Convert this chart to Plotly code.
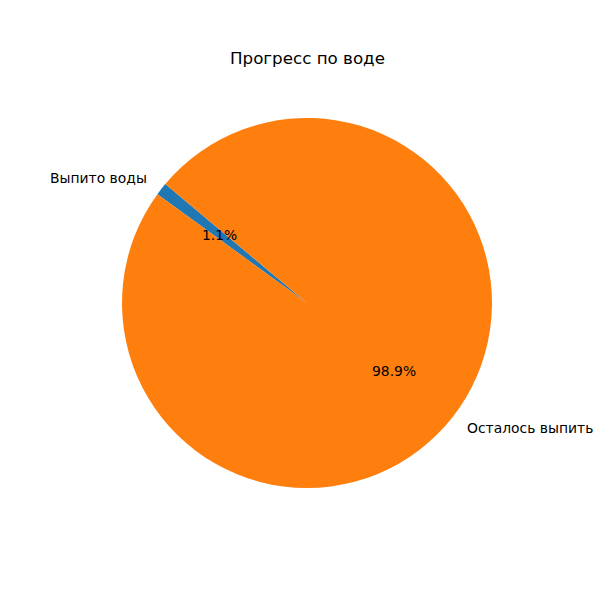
import numpy as np
import plotly.graph_objects as go

labels = ["Выпито воды", "Осталось выпить"]
values = [1.1, 98.9]
colors = ["#1f77b4", "#ff7f0e"]
title = "Прогресс по воде"
start_angle = 140  # degrees, counterclockwise from 3 o'clock

W = H = 600
cx_px, cy_px, r_px = 307, 303, 185

dom_x = [(cx_px - r_px) / W, (cx_px + r_px) / W]
dom_y = [1 - (cy_px + r_px) / H, 1 - (cy_px - r_px) / H]

vals = np.array(values, dtype=float)
fracs = vals / vals.sum()

# plotly (counterclockwise): first slice ends at `rotation` (clockwise from top)
rotation = 90 - start_angle - fracs[0] * 360

fig = go.Figure(go.Pie(
    labels=labels, values=values, sort=False,
    direction="counterclockwise", rotation=rotation,
    marker=dict(colors=colors, line=dict(width=0)),
    textinfo="none", hoverinfo="label+percent", showlegend=False,
    domain=dict(x=dom_x, y=dom_y),
))

font = "DejaVu Sans"
theta = start_angle
annotations = []
for lab, f in zip(labels, fracs):
    mid = np.deg2rad(theta + f * 360 / 2)
    theta += f * 360
    c, s = np.cos(mid), np.sin(mid)
    lx = (cx_px + 1.1 * r_px * c) / W
    ly = 1 - (cy_px - 1.1 * r_px * s) / H
    annotations.append(dict(
        x=lx, y=ly, xref="paper", yref="paper", text=lab, showarrow=False,
        xanchor="right" if c < 0 else "left", yanchor="middle",
        borderpad=0, borderwidth=0,
        font=dict(family=font, size=13.9, color="black")))
    px = (cx_px + 0.6 * r_px * c) / W
    py = 1 - (cy_px - 0.6 * r_px * s) / H
    annotations.append(dict(
        x=px, y=py, xref="paper", yref="paper", text=f"{f*100:.1f}%", showarrow=False,
        xanchor="center", yanchor="middle",
        borderpad=0, borderwidth=0,
        font=dict(family=font, size=13.9, color="black")))

annotations.append(dict(
    x=cx_px / W, y=1 - 58 / H, xref="paper", yref="paper", text=title, showarrow=False,
    xanchor="center", yanchor="middle",
    borderpad=0, borderwidth=0,
    font=dict(family=font, size=16.7, color="black")))

fig.update_layout(
    width=W, height=H, margin=dict(l=0, r=0, t=0, b=0),
    paper_bgcolor="white", plot_bgcolor="white",
    annotations=annotations,
)

fig.write_html("out.html")
